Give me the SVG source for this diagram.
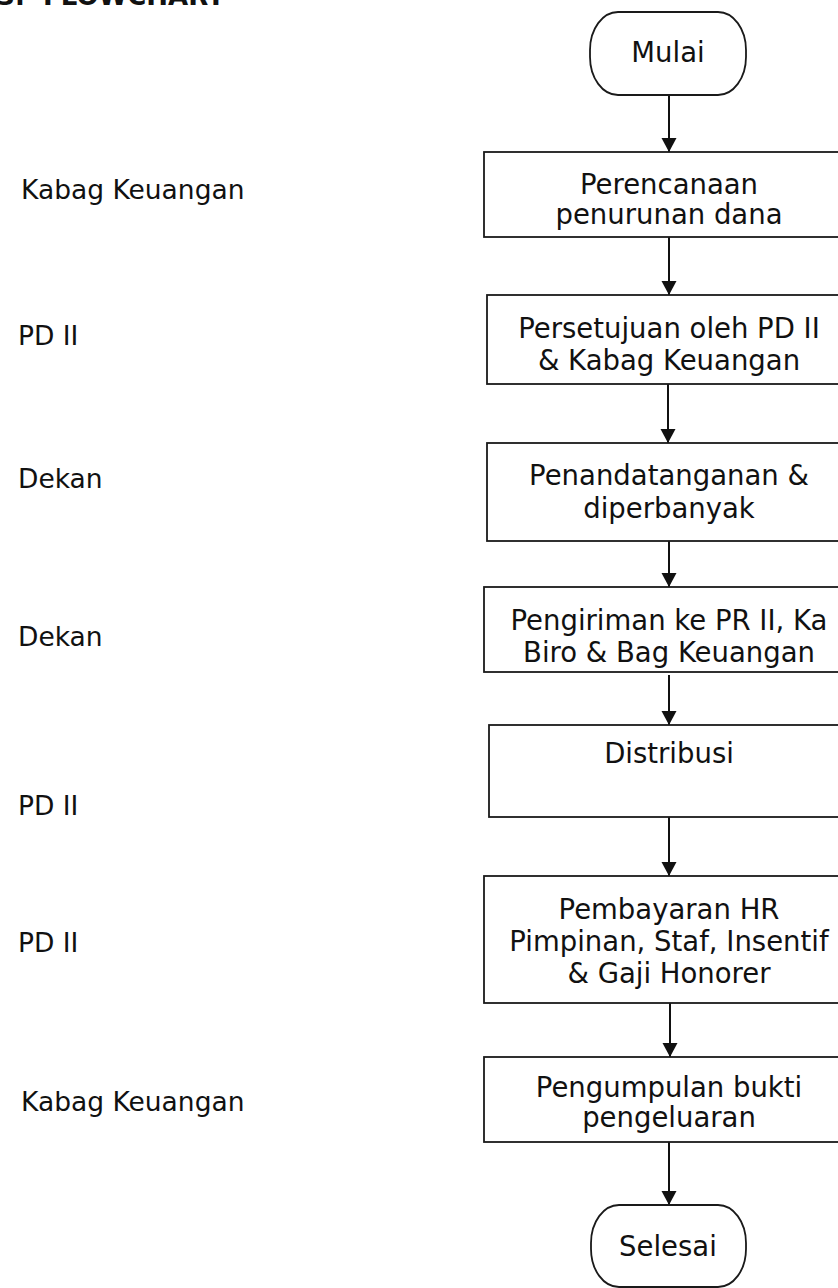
<svg xmlns="http://www.w3.org/2000/svg" width="838" height="1288" viewBox="0 0 838 1288">
<style>
  .t { font-family: "DejaVu Sans", Verdana, sans-serif; font-size: 26.5px; fill: #111; }
  .b { font-size: 27.5px; }
  .c { text-anchor: middle; }
  .title { font-family: "DejaVu Sans", Verdana, sans-serif; font-size: 26px; font-weight: bold; fill: #111; }
  .box { fill: #fff; stroke: #1a1a1a; stroke-width: 1.8; }
  .term { fill: #fff; stroke: #1a1a1a; stroke-width: 1.8; }
  .conn { stroke: #111; stroke-width: 2; fill: none; marker-end: url(#ah); }
</style>
<defs>
  <marker id="ah" markerUnits="userSpaceOnUse" markerWidth="16" markerHeight="16" refX="14" refY="7.5" orient="auto">
    <path d="M0,0 L14,7.5 L0,15 z" fill="#111"/>
  </marker>
</defs>
<rect width="838" height="1288" fill="#fff"/>
<text class="title" x="-3" y="5">3.<tspan x="43">FLOWCHART</tspan></text>

<g id="labels">
  <text class="t" x="21" y="199">Kabag Keuangan</text>
  <text class="t" x="18" y="345">PD II</text>
  <text class="t" x="18" y="488">Dekan</text>
  <text class="t" x="18" y="646">Dekan</text>
  <text class="t" x="18" y="815">PD II</text>
  <text class="t" x="18" y="952">PD II</text>
  <text class="t" x="21" y="1111">Kabag Keuangan</text>
</g>

<g id="connectors">
  <line class="conn" x1="669" y1="95" x2="669" y2="152"/>
  <line class="conn" x1="669" y1="237" x2="669" y2="295"/>
  <line class="conn" x1="668" y1="383" x2="668" y2="443"/>
  <line class="conn" x1="669" y1="536" x2="669" y2="587"/>
  <line class="conn" x1="669" y1="675" x2="669" y2="725"/>
  <line class="conn" x1="669" y1="817" x2="669" y2="876"/>
  <line class="conn" x1="670" y1="1000" x2="670" y2="1057"/>
  <line class="conn" x1="669" y1="1142" x2="669" y2="1205"/>
</g>

<g id="mulai">
  <rect class="term" x="590" y="12" width="156" height="83" rx="28" ry="38"/>
  <text class="t b c" x="668" y="62">Mulai</text>
</g>

<g id="perencanaan">
  <rect class="box" x="484" y="152" width="370" height="85"/>
  <text class="t b c" x="669" y="194">Perencanaan</text>
  <text class="t b c" x="669" y="224">penurunan dana</text>
</g>

<g id="persetujuan">
  <rect class="box" x="487" y="295" width="365" height="89"/>
  <text class="t b c" x="669" y="338">Persetujuan oleh PD II</text>
  <text class="t b c" x="669" y="370">&amp; Kabag Keuangan</text>
</g>

<g id="penandatanganan">
  <rect class="box" x="487" y="443" width="365" height="98"/>
  <text class="t b c" x="669" y="485">Penandatanganan &amp;</text>
  <text class="t b c" x="669" y="518">diperbanyak</text>
</g>

<g id="pengiriman">
  <rect class="box" x="484" y="587" width="370" height="85"/>
  <text class="t b c" x="669" y="630">Pengiriman ke PR II, Ka</text>
  <text class="t b c" x="669" y="662">Biro &amp; Bag Keuangan</text>
</g>

<g id="distribusi">
  <rect class="box" x="489" y="725" width="365" height="92"/>
  <text class="t b c" x="669" y="763">Distribusi</text>
</g>

<g id="pembayaran">
  <rect class="box" x="484" y="876" width="370" height="127"/>
  <text class="t b c" x="669" y="919">Pembayaran HR</text>
  <text class="t b c" x="669" y="951">Pimpinan, Staf, Insentif</text>
  <text class="t b c" x="669" y="983">&amp; Gaji Honorer</text>
</g>

<g id="pengumpulan">
  <rect class="box" x="484" y="1057" width="370" height="85"/>
  <text class="t b c" x="669" y="1097">Pengumpulan bukti</text>
  <text class="t b c" x="669" y="1127">pengeluaran</text>
</g>

<g id="selesai">
  <rect class="term" x="591" y="1205" width="155" height="82" rx="28" ry="38"/>
  <text class="t b c" x="668" y="1256">Selesai</text>
</g>
</svg>
